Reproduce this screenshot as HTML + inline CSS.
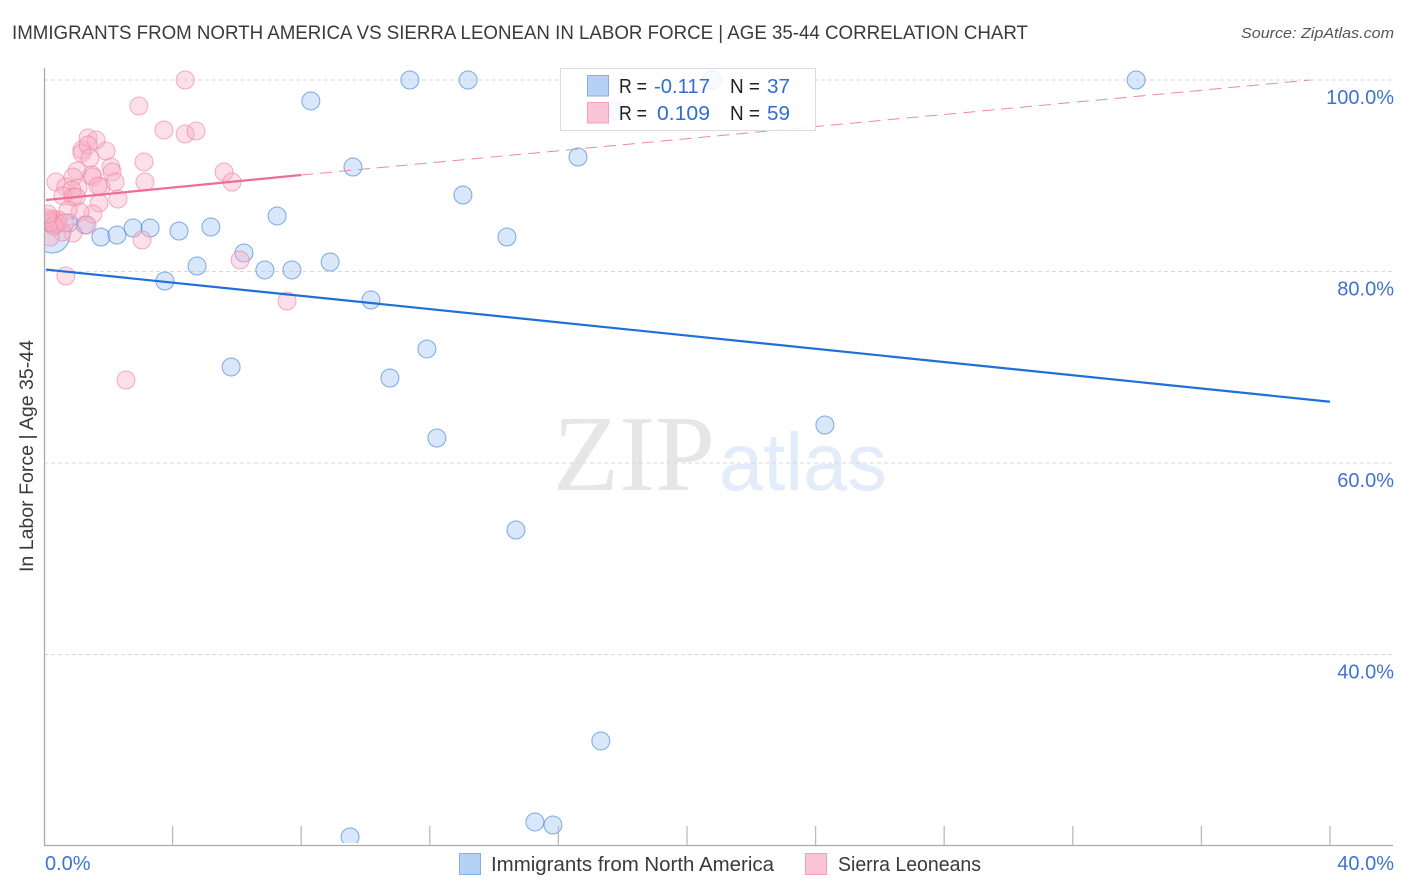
<!DOCTYPE html>
<html lang="en">
<head>
<meta charset="utf-8">
<title>Immigrants from North America vs Sierra Leonean in Labor Force | Age 35-44 Correlation Chart</title>
<style>
html,body{margin:0;padding:0;background:#fff;}
svg{display:block;font-family:"Liberation Sans",sans-serif;}
</style>
</head>
<body>
<svg id="chart" width="1406" height="892" viewBox="0 0 1406 892" xmlns="http://www.w3.org/2000/svg">
  <defs>
    <clipPath id="plot-clip"><rect x="45" y="60" width="1350" height="783"/></clipPath>
  </defs>
  <text x="12" y="39" font-size="19" fill="#3a3a3a" textLength="1016" lengthAdjust="spacingAndGlyphs">IMMIGRANTS FROM NORTH AMERICA VS SIERRA LEONEAN IN LABOR FORCE | AGE 35-44 CORRELATION CHART</text>
  <text x="1241" y="38" font-size="15" font-style="italic" fill="#555" textLength="153" lengthAdjust="spacingAndGlyphs">Source: ZipAtlas.com</text>

  <g>
    <text x="553" y="490" font-family="'Liberation Serif',serif" font-size="108" fill="#e6e6e6" textLength="162" lengthAdjust="spacingAndGlyphs">ZIP</text>
    <text x="719" y="490" font-size="82" fill="#e3ecf9" textLength="168" lengthAdjust="spacingAndGlyphs">atlas</text>
  </g>

  <g id="grid"></g>
  <g id="blue-points" clip-path="url(#plot-clip)"></g>
  <g id="pink-points" clip-path="url(#plot-clip)"></g>
  <g id="trends"></g>
  <g id="axes"></g>

  <text transform="translate(33,572) rotate(-90)" font-size="19" fill="#3a3a3a" textLength="232" lengthAdjust="spacingAndGlyphs">In Labor Force | Age 35-44</text>

  <g>
    <rect x="560.5" y="68.5" width="255" height="62" fill="#fff" fill-opacity="0.85" stroke="#dcdcdc"/>
    <rect x="587.5" y="75.5" width="21" height="20.5" fill="#b5d2f6" stroke="#86aee8"/>
    <rect x="587.5" y="102.5" width="21" height="20.5" fill="#fbc4d6" stroke="#f0a0bc"/>
    <text x="619" y="93" font-size="20" fill="#222" textLength="28" lengthAdjust="spacingAndGlyphs">R =</text>
    <text x="654" y="93" font-size="20" fill="#2f6fd0" textLength="56" lengthAdjust="spacingAndGlyphs">-0.117</text>
    <text x="730" y="93" font-size="20" fill="#222" textLength="30" lengthAdjust="spacingAndGlyphs">N =</text>
    <text x="767" y="93" font-size="20" fill="#2f6fd0" textLength="23" lengthAdjust="spacingAndGlyphs">37</text>
    <text x="619" y="120" font-size="20" fill="#222" textLength="28" lengthAdjust="spacingAndGlyphs">R =</text>
    <text x="657" y="120" font-size="20" fill="#2f6fd0" textLength="53" lengthAdjust="spacingAndGlyphs">0.109</text>
    <text x="730" y="120" font-size="20" fill="#222" textLength="30" lengthAdjust="spacingAndGlyphs">N =</text>
    <text x="767" y="120" font-size="20" fill="#2f6fd0" textLength="23" lengthAdjust="spacingAndGlyphs">59</text>
  </g>

  <g>
    <rect x="459.5" y="853.5" width="21" height="21" fill="#b5d2f6" stroke="#86aee8"/>
    <text x="491" y="871" font-size="20" fill="#3a3a3a" textLength="283" lengthAdjust="spacingAndGlyphs">Immigrants from North America</text>
    <rect x="805.5" y="853.5" width="21" height="21" fill="#fbc4d6" stroke="#f0a0bc"/>
    <text x="838" y="871" font-size="20" fill="#3a3a3a" textLength="143" lengthAdjust="spacingAndGlyphs">Sierra Leoneans</text>
  </g>
</svg>
<script>
const blueX = [0.25,0.78,1.28,1.77,2.27,2.77,3.30,3.76,4.20,4.76,5.19,5.82,6.22,6.87,7.25,7.71,8.30,8.90,9.52,9.61,10.17,10.76,11.38,11.91,12.22,13.03,13.19,14.40,14.68,15.27,15.83,16.61,17.32,17.82,20.78,24.29,33.97];
const blueY = [83.81,85.07,84.86,83.60,83.81,84.54,84.54,79.01,84.23,80.57,84.65,70.03,81.93,80.16,85.80,80.16,97.81,80.99,20.94,90.91,77.02,68.88,100,71.91,62.61,87.99,100,83.60,53.0,22.51,22.19,91.96,30.97,96.76,100,63.97,100];
const blueWeight = [4,1,1,1,1,1,1,1,1,1,1,1,1,1,1,1,1,1,1,1,1,1,1,1,1,1,1,1,1,1,1,1,1,1,1,1,1];
const pinkX = [4.39,2.95,3.73,4.39,4.73,1.37,1.62,1.18,1.18,1.37,1.43,1.93,3.11,2.08,2.12,5.60,5.85,3.14,2.21,1.03,0.37,0.90,1.49,1.52,1.77,0.68,1.06,0.87,0.59,0.90,1.00,1.68,2.30,1.71,1.52,1.12,0.75,3.05,6.10,7.56,0.68,2.55,0.90,0.56,1.34,0.19,0.25,0.19,0.31,0.34,0.16,0.28,0.40,0.44,0.22,0.09,0.31,0.65,0.12];
const pinkY = [100,97.28,94.78,94.36,94.67,93.94,93.73,92.69,92.38,93.21,91.85,92.58,91.44,90.91,90.39,90.39,89.35,89.35,89.35,90.50,89.35,89.87,90.08,89.87,88.83,88.83,88.72,88.51,87.89,87.78,87.78,88.93,87.57,87.15,86.01,86.21,86.42,83.29,81.20,76.92,79.53,68.67,84.02,84.13,84.86,83.60,85.17,85.38,84.96,85.27,85.07,85.48,85.07,85.38,85.17,85.59,84.75,85.07,86.01];
const blueTrendX = [0.06,40];
const blueTrendY = [80.2,66.4];
const pinkTrendX = [0.06,8];
const pinkTrendY = [87.47,90.08];
const pinkDashX = [8,39.4];
const pinkDashY = [90.08,100];
const yGridValues = [100,80,60,40];
const yTickLabels = ["100.0%","80.0%","60.0%","40.0%"];
const xTickValues = [4,8,12,16,20,24,28,32,36,40];
const xEndValues = [0,40];
const xEndLabels = ["0.0%","40.0%"];

const NS = "http://www.w3.org/2000/svg";
function sx(v){ return 44 + v * 32.15; }
function sy(v){ return 80 + (100 - v) * 9.575; }
function mk(parent, tag, attrs){
  const el = document.createElementNS(NS, tag);
  for (const k in attrs) el.setAttribute(k, attrs[k]);
  parent.appendChild(el);
  return el;
}
const gridG = document.getElementById("grid");
const axesG = document.getElementById("axes");
const blueG = document.getElementById("blue-points");
const pinkG = document.getElementById("pink-points");
const trendG = document.getElementById("trends");

yGridValues.forEach(function(v, i){
  const g = mk(gridG, "line", {x1:44, x2:1393, y1:sy(v), y2:sy(v), stroke:"#d8d8d8", "stroke-width":1, "stroke-dasharray":"4 3"});
  
  
  const t = mk(axesG, "text", {x:1394, y:sy(v)+24, "text-anchor":"end", "font-size":20, fill:"#3f73d2"});
  
  
  t.textContent = yTickLabels[i];
});

blueX.forEach(function(v, i){
  const c = mk(blueG, "circle", {cx:sx(v), cy:sy(blueY[i]), r:9*Math.sqrt(blueWeight[i]), fill:"#a9c9f3", "fill-opacity":0.45, stroke:"#3f7fdc", "stroke-opacity":0.65, "stroke-width":1});
  
  
});
pinkX.forEach(function(v, i){
  const c = mk(pinkG, "circle", {cx:sx(v), cy:sy(pinkY[i]), r:9, fill:"#f8b2c8", "fill-opacity":0.42, stroke:"#ec7ba0", "stroke-opacity":0.6, "stroke-width":1});
  
  
});

const blueLine = mk(trendG, "line", {x1:sx(blueTrendX[0]), y1:sy(blueTrendY[0]), x2:sx(blueTrendX[1]), y2:sy(blueTrendY[1]), stroke:"#1f6fd8", "stroke-width":2.2});


const pinkLine = mk(trendG, "line", {x1:sx(pinkTrendX[0]), y1:sy(pinkTrendY[0]), x2:sx(pinkTrendX[1]), y2:sy(pinkTrendY[1]), stroke:"#ee6c97", "stroke-width":2.2});


const pinkDash = mk(trendG, "line", {x1:sx(pinkDashX[0]), y1:sy(pinkDashY[0]), x2:sx(pinkDashX[1]), y2:sy(pinkDashY[1]), stroke:"#e88aa8", "stroke-width":1, "stroke-dasharray":"12 7"});



const yAxis = mk(axesG, "line", {x1:44.5, x2:44.5, y1:68, y2:845.5, stroke:"#aaa", "stroke-width":1.3});


const xAxis = mk(axesG, "line", {x1:44, x2:1393, y1:845.5, y2:845.5, stroke:"#aaa", "stroke-width":1.3});


xTickValues.forEach(function(v){
  const t = mk(axesG, "line", {x1:sx(v), x2:sx(v), y1:826, y2:845, stroke:"#bbb", "stroke-width":1.3});
  
  
});
xEndValues.forEach(function(v, i){
  const t = mk(axesG, "text", {x: i === 0 ? sx(v)+1 : 1394, y:870, "text-anchor": i === 0 ? "start" : "end", "font-size":20, fill:"#3f73d2"});
  
  
  t.textContent = xEndLabels[i];
});
</script>
</body>
</html>
